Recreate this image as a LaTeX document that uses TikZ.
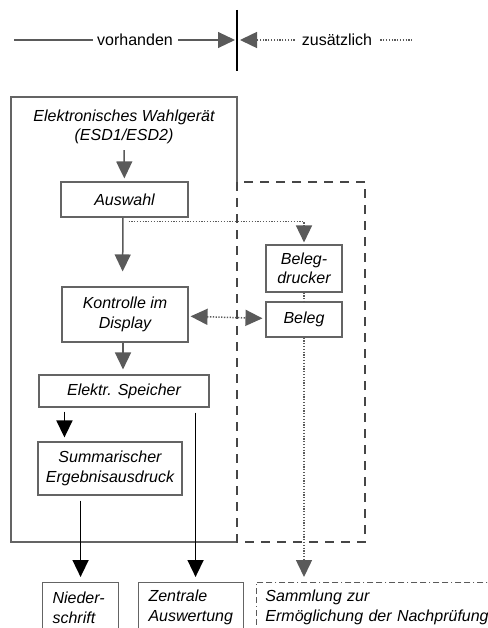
\documentclass[tikz,border=0pt]{standalone}
\usepackage{fontspec}
\setmainfont{Liberation Sans}
\usetikzlibrary{arrows.meta, positioning}
\definecolor{linegray}{RGB}{90,90,90}
\definecolor{boxgray}{RGB}{100,100,100}
\definecolor{dashgray}{RGB}{70,70,70}

\begin{document}
\begin{tikzpicture}[
    x=1pt, y=-1pt,
    txt/.style={font=\fontsize{16}{19}\selectfont\itshape, inner sep=0pt},
    box/.style={draw=boxgray, line width=1.1pt, inner sep=0pt, align=center, font=\fontsize{16}{19.5}\selectfont\itshape},
    outbox/.style={box, align=left, inner ysep=0pt},
    grayarrow/.style={-{Triangle[length=17pt, width=16pt]}, draw=linegray, line width=1.5pt},
    blackarrow/.style={-{Triangle[length=17pt, width=16pt]}, line width=1.6pt},
    dotline/.style={draw=linegray, line width=1.5pt, dash pattern=on 1.3pt off 1.5pt},
    dotarrow/.style={dotline, -{Triangle[length=17pt, width=16pt]}}
]
    \useasboundingbox (0,0) rectangle (487,628);
    \clip (0,0) rectangle (487,628);

    % Legend
    \node[font=\fontsize{16}{19}\selectfont, inner sep=0pt] (vorh) at (135,40) {vorhanden};
    \node[font=\fontsize{16}{19}\selectfont, inner sep=0pt] (zus) at (337,40) {zusätzlich};
    \coordinate (legstart) at (14,40);
    \coordinate (legend) at (413,40);
    \coordinate (septop) at (237,10);
    \coordinate (sepbot) at (237,71);
    \draw[line width=1.1pt] (septop) -- (sepbot);
    \draw[line width=1.1pt, linegray] (legstart) -- ([xshift=-4pt]vorh.west);
    \draw[grayarrow, line width=1.1pt, shorten <=5pt, shorten >=2pt] (vorh.east) -- (septop |- vorh);
    \draw[dotarrow, shorten <=7pt, shorten >=3pt] (zus.west) -- (septop |- zus);
    \draw[dotline, shorten <=8pt] (zus.east) -- (legend);

    % Voting device frame (solid) and printer frame (dashed)
    \draw[line width=1.1pt, boxgray] (237,182) -- (237,97) -- (11,97) -- (11,542) -- (237,542);
    \draw[line width=2pt, dashgray, dash pattern=on 9pt off 7pt] (237,182) rectangle (365,542);

    % Device boxes
    \node[txt, align=center] (geraet) at (124,127) {Elektronisches Wahlgerät\\(ESD1/ESD2)};
    \node[box, minimum width=127, minimum height=35] (auswahl) at (124.5,199.5) {Auswahl};
    \node[box, minimum width=126, minimum height=55] (kontrolle) at (125,314.5) {Kontrolle im\\Display};
    \node[box, minimum width=170, minimum height=32] (speicher) at (124,391) {Elektr. Speicher};
    \node[box, minimum width=144, minimum height=53] (summe) at (110,468.5) {Summarischer\\Ergebnisausdruck};

    % Printer boxes
    \node[box, minimum width=76, minimum height=47] (drucker) at (304,268.5) {Beleg-\\drucker};
    \node[box, minimum width=76, minimum height=35] (beleg) at (304,319.5) {Beleg};

    % Output boxes
    \node[outbox, anchor=north west, inner xsep=10pt, text width=56pt, minimum height=50] (nieder) at (42,582) {Nieder-\\schrift};
    \node[outbox, anchor=north west, inner xsep=10pt, text width=85pt, minimum height=50] (zentral) at (138,582) {Zentrale\\Auswertung};
    \node[outbox, anchor=north west, inner xsep=9pt, text width=240pt, minimum height=50, draw=linegray, line width=0.9pt,
          dash pattern=on 6pt off 3pt on 6pt off 3pt on 1pt off 3pt] (sammlung) at (256,582) {Sammlung zur\\Ermöglichung der Nachprüfung};

    % Existing flow
    \draw[grayarrow, shorten <=6pt, shorten >=3pt] (geraet) -- (auswahl);
    \draw[grayarrow, shorten >=15pt] ([xshift=-1.5pt]auswahl.south) -- ([xshift=-2.5pt]kontrolle.north);
    \draw[grayarrow, shorten >=5pt] ([xshift=-2pt]kontrolle.south) -- ([xshift=-1pt]speicher.north);
    \draw[blackarrow, shorten <=4pt, shorten >=4pt] ([xshift=26pt]speicher.south west) -- ([xshift=27pt]summe.north west);
    \draw[blackarrow, shorten <=5pt, shorten >=5pt] (summe.south -| nieder) -- (nieder.north);
    \draw[blackarrow, shorten <=5pt, shorten >=5pt] ([xshift=-14pt]speicher.south east) -- ([xshift=-14pt]speicher.south east |- zentral.north);

    % Additional flow
    \draw[dotarrow, shorten >=2pt] ([xshift=4pt, yshift=-4pt]auswahl.south) -| (drucker.north);
    \draw[dotline] (drucker) -- (beleg);
    \draw[dotline, {Triangle[length=17pt, width=16pt]}-{Triangle[length=17pt, width=16pt]}, shorten <=2pt, shorten >=3pt] (kontrolle) -- (beleg);
    \draw[dotarrow, shorten >=5pt] (beleg.south) -- (beleg.south |- sammlung.north);
\end{tikzpicture}
\end{document}
